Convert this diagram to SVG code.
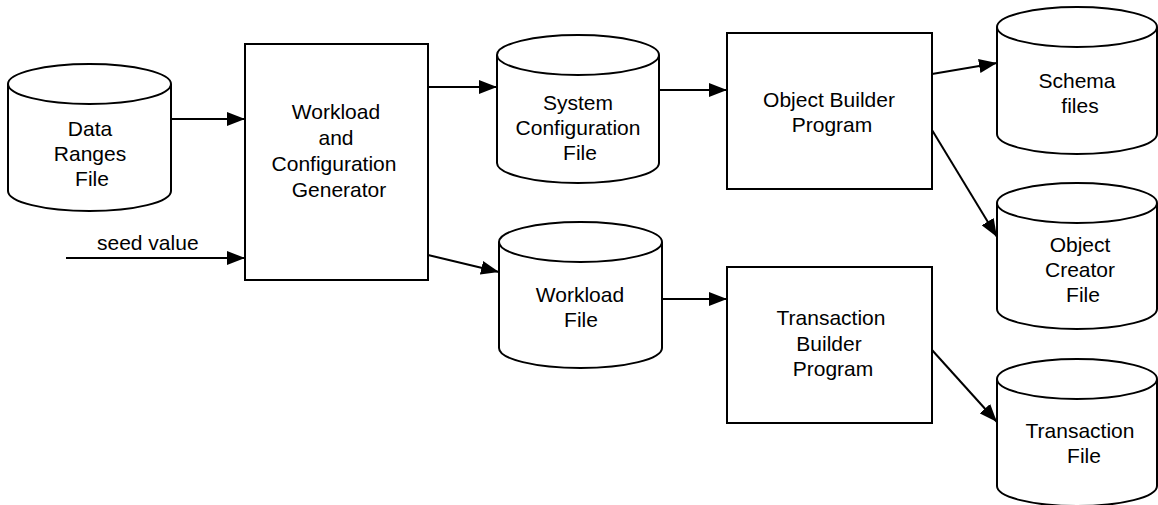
<svg xmlns="http://www.w3.org/2000/svg" width="1158" height="505" viewBox="0 0 1158 505">
  <style>
    .shape { fill: #ffffff; stroke: #000000; stroke-width: 2; }
    .lbl { font-family: "Liberation Sans", Arial, sans-serif; font-size: 21px; fill: #000000; text-anchor: middle; }
    .edge { stroke: #000000; stroke-width: 2; fill: none; marker-end: url(#arrow); }
  </style>
  <defs>
    <marker id="arrow" markerWidth="18" markerHeight="14" refX="18" refY="7" orient="auto" markerUnits="userSpaceOnUse">
      <path d="M0,0 L18,7 L0,14 Z" fill="#000000"/>
    </marker>
  </defs>

  <!-- connectors -->
  <g id="connectors">
    <line class="edge" x1="171" y1="119" x2="245" y2="119"/>
    <line class="edge" x1="66" y1="258" x2="245" y2="258"/>
    <line class="edge" x1="428" y1="87" x2="497" y2="87"/>
    <line class="edge" x1="659" y1="90" x2="727" y2="90"/>
    <line class="edge" x1="428" y1="255" x2="499" y2="272"/>
    <line class="edge" x1="662" y1="299" x2="727" y2="299"/>
    <line class="edge" x1="932" y1="74" x2="997" y2="63"/>
    <line class="edge" x1="932" y1="130" x2="997" y2="237"/>
    <line class="edge" x1="932" y1="350" x2="997" y2="422"/>
    <text class="lbl" x="97" y="250" style="text-anchor:start">seed value</text>
  </g>

  <!-- Data Ranges File -->
  <g id="data-ranges-file">
    <path class="shape" d="M8,84 L8,191 A81.5,20 0 0 0 171,191 L171,84"/>
    <ellipse class="shape" cx="89.5" cy="84" rx="81.5" ry="20"/>
    <text class="lbl" x="90" y="136">Data</text>
    <text class="lbl" x="90" y="161">Ranges</text>
    <text class="lbl" x="92" y="186">File</text>
  </g>

  <!-- Workload and Configuration Generator -->
  <g id="workload-config-generator">
    <rect class="shape" x="245" y="44" width="183" height="236"/>
    <text class="lbl" x="336" y="119">Workload</text>
    <text class="lbl" x="336" y="145">and</text>
    <text class="lbl" x="334" y="171">Configuration</text>
    <text class="lbl" x="339" y="197">Generator</text>
  </g>

  <!-- System Configuration File -->
  <g id="system-configuration-file">
    <path class="shape" d="M497,55 L497,163 A81,20 0 0 0 659,163 L659,55"/>
    <ellipse class="shape" cx="578" cy="55" rx="81" ry="20"/>
    <text class="lbl" x="578" y="110">System</text>
    <text class="lbl" x="578" y="135">Configuration</text>
    <text class="lbl" x="580" y="160">File</text>
  </g>

  <!-- Workload File -->
  <g id="workload-file">
    <path class="shape" d="M499,242 L499,348 A81.5,20 0 0 0 662,348 L662,242"/>
    <ellipse class="shape" cx="580.5" cy="242" rx="81.5" ry="20"/>
    <text class="lbl" x="580" y="302">Workload</text>
    <text class="lbl" x="581" y="327">File</text>
  </g>

  <!-- Object Builder Program -->
  <g id="object-builder-program">
    <rect class="shape" x="727" y="33" width="205" height="156"/>
    <text class="lbl" x="829" y="107">Object Builder</text>
    <text class="lbl" x="832" y="132">Program</text>
  </g>

  <!-- Transaction Builder Program -->
  <g id="transaction-builder-program">
    <rect class="shape" x="727" y="267" width="205" height="156"/>
    <text class="lbl" x="831" y="325">Transaction</text>
    <text class="lbl" x="829" y="351">Builder</text>
    <text class="lbl" x="833" y="376">Program</text>
  </g>

  <!-- Schema files -->
  <g id="schema-files">
    <path class="shape" d="M997,27 L997,134 A80,20 0 0 0 1157,134 L1157,27"/>
    <ellipse class="shape" cx="1077" cy="27" rx="80" ry="20"/>
    <text class="lbl" x="1077" y="88">Schema</text>
    <text class="lbl" x="1080" y="113">files</text>
  </g>

  <!-- Object Creator File -->
  <g id="object-creator-file">
    <path class="shape" d="M997,203 L997,309 A80,20 0 0 0 1157,309 L1157,203"/>
    <ellipse class="shape" cx="1077" cy="203" rx="80" ry="20"/>
    <text class="lbl" x="1080" y="252">Object</text>
    <text class="lbl" x="1080" y="277">Creator</text>
    <text class="lbl" x="1083" y="302">File</text>
  </g>

  <!-- Transaction File -->
  <g id="transaction-file">
    <path class="shape" d="M997,379 L997,486 A80,20 0 0 0 1157,486 L1157,379"/>
    <ellipse class="shape" cx="1077" cy="379" rx="80" ry="20"/>
    <text class="lbl" x="1080" y="438">Transaction</text>
    <text class="lbl" x="1084" y="463">File</text>
  </g>
</svg>
